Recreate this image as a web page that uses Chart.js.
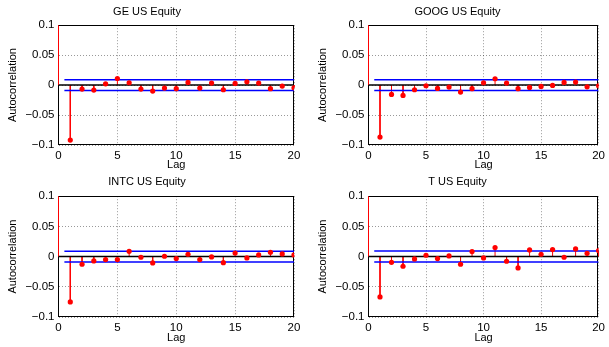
<!DOCTYPE html>
<html>
<head>
<meta charset="utf-8">
<script src="https://cdn.jsdelivr.net/npm/chart.js@4.4.0/dist/chart.umd.min.js"></script>
<style>
  html, body { margin: 0; padding: 0; background: #fff; overflow: hidden; width: 609px; height: 347px; }
  canvas { position: absolute; }
</style>
</head>
<body>
<canvas id="ge" width="305" height="172" style="left:0;top:0"></canvas>
<canvas id="goog" width="299" height="172" style="left:310px;top:0"></canvas>
<canvas id="intc" width="305" height="175" style="left:0;top:172px"></canvas>
<canvas id="t" width="299" height="175" style="left:310px;top:172px"></canvas>
<script>
// lags 0..20, sample autocorrelation
const lags = [0, 1, 2, 3, 4, 5, 6, 7, 8, 9, 10, 11, 12, 13, 14, 15, 16, 17, 18, 19, 20];
const geAcf = [1, -0.0917, -0.0067, -0.0083, 0.0022, 0.011, 0.0039, -0.0067, -0.01, -0.005, -0.006,
  0.0044, -0.005, 0.0033, -0.0078, 0.0028, 0.0056, 0.0033, -0.006, -0.0017, -0.0044];
const googAcf = [1, -0.0867, -0.0156, -0.0172, -0.0078, -0.0011, -0.0056, -0.0033, -0.0117, -0.006, 0.0039,
  0.0106, 0.0033, -0.006, -0.0039, -0.0022, -0.0006, 0.0044, 0.005, -0.0028, -0.0011];
const intcAcf = [1, -0.075, -0.0127, -0.0072, -0.005, -0.005, 0.0088, -0.0011, -0.0105, 0.0006, -0.0033,
  0.0039, -0.005, -0.0006, -0.01, 0.006, -0.0022, 0.0028, 0.0072, 0.0044, 0.0028];
const tAcf = [1, -0.0667, -0.0094, -0.016, -0.0039, 0.0022, -0.0033, 0.0011, -0.0127, 0.0083, -0.0022,
  0.0149, -0.0077, -0.0187, 0.011, 0.0039, 0.0116, -0.0011, 0.0127, 0.0055, 0.01];
const titles = ['GE US Equity', 'GOOG US Equity', 'INTC US Equity', 'T US Equity'];
const confBound = [0.009, 0.009, 0.0088, 0.0091];
const boundStart = 0.5;
const xTicks = [0, 5, 10, 15, 20];
const yTicks = [-0.1, -0.05, 0, 0.05, 0.1];

const FONT = 'Liberation Sans, Arial, Helvetica, sans-serif';

// black box round the plot area, like matlab
const framePlugin = {
  id: 'frame',
  beforeDatasetsDraw(chart) {
    const { ctx, chartArea: a } = chart;
    const l = Math.floor(a.left) + 0.5, t = Math.floor(a.top) + 0.5;
    const r = Math.floor(a.right) - 0.5, b = Math.floor(a.bottom) - 0.5;
    ctx.save();
    ctx.strokeStyle = '#000';
    ctx.lineWidth = 1;
    ctx.strokeRect(l, t, r - l, b - t);
    ctx.restore();
  }
};

function fmtY(v) {
  const r = Math.round(v * 100) / 100;
  if (r === 0) return '0';
  return (r < 0 ? '\u2212' : '') + String(Math.abs(r));
}

function makeChart(id, title, acf, bound, lay) {
  const ctx = document.getElementById(id).getContext('2d');
  const stems = lags.flatMap((lag, i) => [{ x: lag, y: 0 }, { x: lag, y: acf[i] }, { x: lag, y: null }]);
  const dots = lags.map((lag, i) => ({ x: lag, y: acf[i] }));
  const last = lags[lags.length - 1];

  return new Chart(ctx, {
    type: 'scatter',
    data: {
      datasets: [
        { data: dots, showLine: false, pointRadius: 2.6, pointBackgroundColor: '#ff0000', pointBorderColor: '#ff0000', pointBorderWidth: 0 },
        { data: [{ x: boundStart, y: bound }, { x: last, y: bound }], showLine: true, borderColor: '#0000ff', borderWidth: 1.5, pointRadius: 0 },
        { data: [{ x: boundStart, y: -bound }, { x: last, y: -bound }], showLine: true, borderColor: '#0000ff', borderWidth: 1.5, pointRadius: 0 },
        { data: [{ x: 0, y: 0 }, { x: last, y: 0 }], showLine: true, borderColor: '#000000', borderWidth: 1.5, pointRadius: 0 },
        { data: stems, showLine: true, spanGaps: false, borderColor: '#ff0000', borderWidth: 1, pointRadius: 0,
          clip: { left: 1, right: 1, top: 0, bottom: 1 } }
      ]
    },
    options: {
      responsive: false,
      animation: false,
      events: [],
      layout: { autoPadding: false, padding: { left: 0, right: lay.padRight, top: 0, bottom: 0 } },
      plugins: {
        legend: { display: false },
        tooltip: { enabled: false },
        title: {
          display: true, text: title, color: '#000',
          font: { family: FONT, size: 11, weight: 'normal' },
          padding: lay.titlePad
        }
      },
      scales: {
        x: {
          type: 'linear', min: 0, max: 20,
          afterBuildTicks: s => { s.ticks = xTicks.map(v => ({ value: v })); },
          afterFit: s => { s.height = lay.xHeight; },
          grid: { color: 'rgba(0,0,0,0.4)', lineWidth: 1, drawTicks: false },
          border: { display: false, dash: [1, 2] },
          ticks: { color: '#000', padding: 4, maxRotation: 0, font: { family: FONT, size: 11.5 } },
          title: { display: true, text: 'Lag', color: '#000', padding: { top: 0, bottom: lay.lagPad }, font: { family: FONT, size: 11 } }
        },
        y: {
          type: 'linear', min: -0.1, max: 0.1,
          afterBuildTicks: s => { s.ticks = yTicks.map(v => ({ value: v })); },
          afterFit: s => { s.width = 58.5; },
          grid: { color: 'rgba(0,0,0,0.4)', lineWidth: 1, drawTicks: false },
          border: { display: false, dash: [1, 2] },
          ticks: { color: '#000', padding: 4, callback: v => fmtY(v), font: { family: FONT, size: 11.5 } },
          title: { display: true, text: 'Autocorrelation', color: '#000', padding: { top: 6, bottom: 0 }, font: { family: FONT, size: 11 } }
        }
      }
    },
    plugins: [framePlugin]
  });
}

const topLay = { padRight: 11, xHeight: 27, titlePad: { top: 5, bottom: 7 }, lagPad: 0 };
const botLay = { padRight: 11, xHeight: 30, titlePad: { top: 3, bottom: 8 }, lagPad: 2 };

makeChart('ge', titles[0], geAcf, confBound[0], topLay);
makeChart('goog', titles[1], googAcf, confBound[1], Object.assign({}, topLay, { padRight: 4 }));
makeChart('intc', titles[2], intcAcf, confBound[2], botLay);
makeChart('t', titles[3], tAcf, confBound[3], Object.assign({}, botLay, { padRight: 4 }));
</script>
</body>
</html>
